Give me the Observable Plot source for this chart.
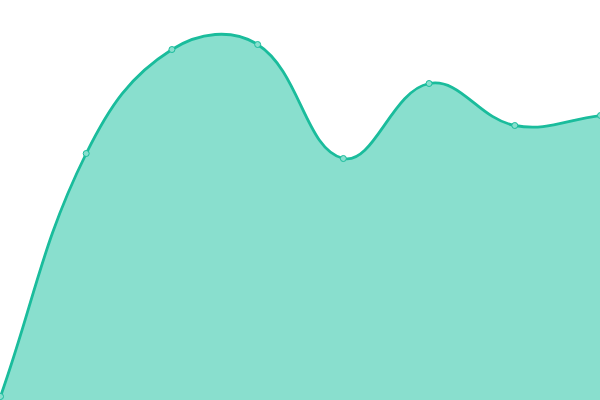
<!DOCTYPE html>
<html><head><meta charset="utf-8">
<script src="https://cdn.jsdelivr.net/npm/d3@7"></script>
<script src="https://cdn.jsdelivr.net/npm/@observablehq/plot@0.6"></script>
<style>html,body{margin:0;padding:0;background:#fff;overflow:hidden}</style>
</head><body><div id="chart"></div>
<script>
const categories = [0, 1, 2, 3, 4, 5, 6, 7];
const values = [4, 247, 351, 356, 242, 317, 275, 285];
const data = categories.map((c, i) => ({x: c, y: values[i]}));

// Spline curve with distance-weighted tension (tension 0.4), capped to the plot area
function splineCurve(tension, W, H) {
  function Curve(context) { this._context = context; }
  Curve.prototype = {
    areaStart() { this._line = 0; },
    areaEnd() { this._line = NaN; },
    lineStart() { this._pts = []; },
    point(x, y) { this._pts.push([+x, +y]); },
    lineEnd() {
      const p = this._pts, n = p.length, c = this._context;
      if (n) {
        const cps = p.map((cur, i) => {
          const prev = p[i - 1] || cur, next = p[i + 1] || cur;
          const d01 = Math.hypot(cur[0] - prev[0], cur[1] - prev[1]);
          const d12 = Math.hypot(next[0] - cur[0], next[1] - cur[1]);
          let s01 = d01 / (d01 + d12), s12 = d12 / (d01 + d12);
          if (!isFinite(s01)) s01 = 0; if (!isFinite(s12)) s12 = 0;
          const fa = tension * s01, fb = tension * s12;
          const cl = (v, m) => Math.max(0, Math.min(m, v));
          return {
            prev: [cl(cur[0] - fa * (next[0] - prev[0]), W), cl(cur[1] - fa * (next[1] - prev[1]), H)],
            next: [cl(cur[0] + fb * (next[0] - prev[0]), W), cl(cur[1] + fb * (next[1] - prev[1]), H)]
          };
        });
        if (this._line) c.lineTo(p[0][0], p[0][1]); else c.moveTo(p[0][0], p[0][1]);
        for (let i = 1; i < n; i++) {
          c.bezierCurveTo(cps[i - 1].next[0], cps[i - 1].next[1], cps[i].prev[0], cps[i].prev[1], p[i][0], p[i][1]);
        }
      }
      if (this._line || (this._line !== 0 && n === 1)) c.closePath();
      this._line = 1 - this._line;
    }
  };
  return (context) => new Curve(context);
}
const curve = splineCurve(0.4, 600, 400);

const chart = Plot.plot({
  width: 600, height: 400,
  margin: 0,
  x: {domain: [0, 7], axis: null},
  y: {domain: [0, 400], axis: null},
  style: {overflow: "hidden", background: "#fff"},
  marks: [
    Plot.areaY(data, {x: "x", y: "y", fill: "#89dfce", curve}),
    Plot.lineY(data, {x: "x", y: "y", stroke: "#1abc9c", strokeWidth: 2.8, curve}),
    Plot.dot(data, {x: "x", y: "y", r: 3, fill: "#89dfce", stroke: "#1abc9c", strokeWidth: 1})
  ]
});
document.getElementById("chart").appendChild(chart);
</script></body></html>
